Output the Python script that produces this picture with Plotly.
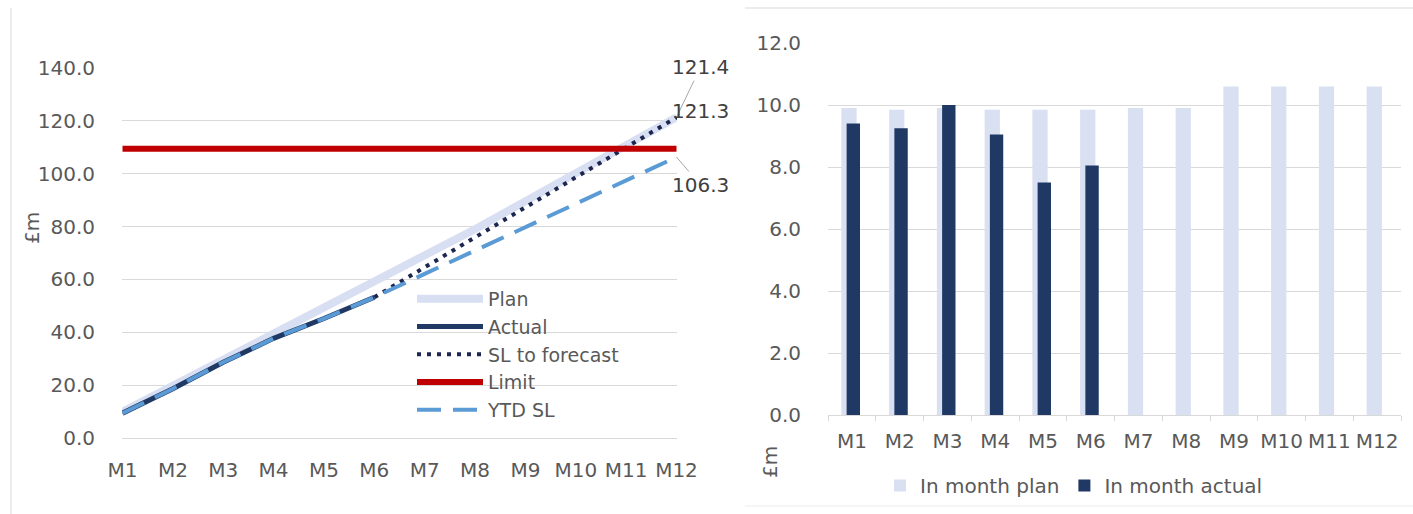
import plotly.graph_objects as go

# Month labels shared by both panels
months = ["M1", "M2", "M3", "M4", "M5", "M6", "M7", "M8", "M9", "M10", "M11", "M12"]

# In-month values (£m)
in_month_plan = [9.9, 9.85, 9.9, 9.85, 9.85, 9.85, 9.9, 9.9, 10.6, 10.6, 10.6, 10.6]
in_month_actual = [9.4, 9.25, 10.0, 9.05, 7.5, 8.05]

# Cumulative values (£m)
plan_cum = [9.9, 19.75, 29.65, 39.5, 49.35, 59.2, 69.1, 79.0, 89.6, 100.2, 110.8, 121.4]
actual_cum = [9.4, 18.65, 28.65, 37.7, 45.2, 53.25]
sl_to_forecast = [None, None, None, None, None, 53.25, 64.6, 75.9, 87.3, 98.6, 110.0, 121.3]
ytd_sl = [9.4, 18.65, 28.65, 37.7, 45.2, 53.25, 62.1, 70.9, 79.8, 88.6, 97.5, 106.3]
limit_value = 109.4
limit = [limit_value] * len(months)

FONT = "DejaVu Sans"
TXT = "#595959"
GRID = "#d9d9d9"
W, H = 1413, 514


def px_x(p):
    return p / W


def px_y(p):
    return 1 - p / H


fig = go.Figure()

# ---- cumulative line chart ----
fig.add_trace(go.Scatter(x=months, y=plan_cum, name="Plan", mode="lines",
                         line=dict(color="#d9dff2", width=8),
                         xaxis="x", yaxis="y", legend="legend"))
fig.add_trace(go.Scatter(x=months[:len(actual_cum)], y=actual_cum, name="Actual", mode="lines",
                         line=dict(color="#1f3864", width=5),
                         xaxis="x", yaxis="y", legend="legend"))
fig.add_trace(go.Scatter(x=months, y=sl_to_forecast, name="SL to forecast", mode="lines",
                         line=dict(color="#1c2650", width=4, dash="4px,6px"),
                         xaxis="x", yaxis="y", legend="legend"))
fig.add_trace(go.Scatter(x=months, y=limit, name="Limit", mode="lines",
                         line=dict(color="#c00000", width=6),
                         xaxis="x", yaxis="y", legend="legend"))
fig.add_trace(go.Scatter(x=months, y=ytd_sl, name="YTD SL", mode="lines",
                         line=dict(color="#5b9bd5", width=4, dash="24px,12px"),
                         xaxis="x", yaxis="y", legend="legend"))

# ---- in-month bar chart ----
fig.add_trace(go.Bar(x=months, y=in_month_plan, name="In month plan",
                     marker=dict(color="#d9e0f1", line=dict(width=0)),
                     offset=-0.22, width=0.32,
                     xaxis="x2", yaxis="y2", legend="legend2"))
fig.add_trace(go.Bar(x=months[:len(in_month_actual)], y=in_month_actual, name="In month actual",
                     marker=dict(color="#1f3864", line=dict(width=0)),
                     offset=-0.11, width=0.28,
                     xaxis="x2", yaxis="y2", legend="legend2"))

tickfont = dict(family=FONT, size=20, color=TXT)

fig.update_layout(
    template="none",
    width=W, height=H,
    margin=dict(l=0, r=0, t=0, b=0, autoexpand=False),
    paper_bgcolor="white", plot_bgcolor="white",
    barmode="overlay",
    showlegend=True,
    xaxis=dict(domain=[px_x(122), px_x(677)], anchor="y", type="category",
               range=[-0.01, 11.01], showgrid=False, showline=True, linecolor=GRID,
               ticks="", tickangle=0, tickfont=tickfont, ticklabelstandoff=14,
               automargin=False, zeroline=False),
    yaxis=dict(domain=[px_y(438), px_y(68)], anchor="x", range=[0, 140],
               tickvals=[0, 20, 40, 60, 80, 100, 120, 140], tickformat=".1f",
               showgrid=True, gridcolor=GRID, gridwidth=1, zeroline=False,
               showline=False, ticks="", tickfont=tickfont, ticklabelstandoff=26,
               automargin=False),
    xaxis2=dict(domain=[px_x(828), px_x(1401)], anchor="y2", type="category",
                showgrid=False, showline=True, linecolor=GRID,
                ticks="outside", tickson="boundaries", ticklen=5, tickcolor=GRID,
                tickangle=0, tickfont=tickfont, ticklabelstandoff=8,
                automargin=False, zeroline=False),
    yaxis2=dict(domain=[px_y(415), px_y(43)], anchor="x2", range=[0, 12],
                tickvals=[0, 2, 4, 6, 8, 10, 12], tickformat=".1f",
                showgrid=True, gridcolor=GRID, gridwidth=1, zeroline=False,
                showline=False, ticks="", tickfont=tickfont, ticklabelstandoff=26,
                automargin=False),
    legend=dict(x=px_x(412), y=px_y(280), xanchor="left", yanchor="top",
                orientation="v", bgcolor="rgba(255,255,255,0)",
                font=dict(family=FONT, size=19, color=TXT),
                itemwidth=66, tracegroupgap=0, traceorder="normal"),
    legend2=dict(x=px_x(880), y=px_y(466), xanchor="left", yanchor="top",
                 orientation="h", bgcolor="rgba(255,255,255,0)",
                 font=dict(family=FONT, size=20, color=TXT),
                 itemwidth=30, traceorder="normal"),
)

annot_font = dict(family=FONT, size=20, color="#404040")
fig.add_annotation(x=months[-1], y=plan_cum[-1], xref="x", yref="y", text=f"{plan_cum[-1]:.1f}",
                   showarrow=True, ax=24, ay=-50, arrowhead=0, arrowwidth=1,
                   arrowcolor="#a6a6a6", standoff=0, font=annot_font)
fig.add_annotation(x=months[-1], y=sl_to_forecast[-1], xref="x", yref="y",
                   text=f"{sl_to_forecast[-1]:.1f}", showarrow=False,
                   xshift=24, yshift=6, font=annot_font)
fig.add_annotation(x=months[-1], y=ytd_sl[-1], xref="x", yref="y", text=f"{ytd_sl[-1]:.1f}",
                   showarrow=True, ax=24, ay=28, arrowhead=0, arrowwidth=1,
                   arrowcolor="#a6a6a6", standoff=0, font=annot_font)

# Axis titles
fig.add_annotation(x=px_x(32), y=px_y(228), xref="paper", yref="paper", text="£m",
                   xanchor="center", yanchor="middle",
                   textangle=-90, showarrow=False, font=dict(family=FONT, size=20, color=TXT))
fig.add_annotation(x=px_x(770), y=px_y(462), xref="paper", yref="paper", text="£m",
                   xanchor="center", yanchor="middle",
                   textangle=-90, showarrow=False, font=dict(family=FONT, size=20, color=TXT))

# Chart frames
frame = dict(color="#d9d9d9", width=1)
fig.add_shape(type="line", xref="paper", yref="paper", x0=px_x(11), x1=px_x(11),
              y0=px_y(8), y1=0, line=frame)
fig.add_shape(type="line", xref="paper", yref="paper", x0=px_x(745), x1=1,
              y0=px_y(8), y1=px_y(8), line=frame)
fig.add_shape(type="line", xref="paper", yref="paper", x0=px_x(745), x1=1,
              y0=px_y(506), y1=px_y(506), line=dict(color="#ececec", width=1))

fig.write_html("out.html")
